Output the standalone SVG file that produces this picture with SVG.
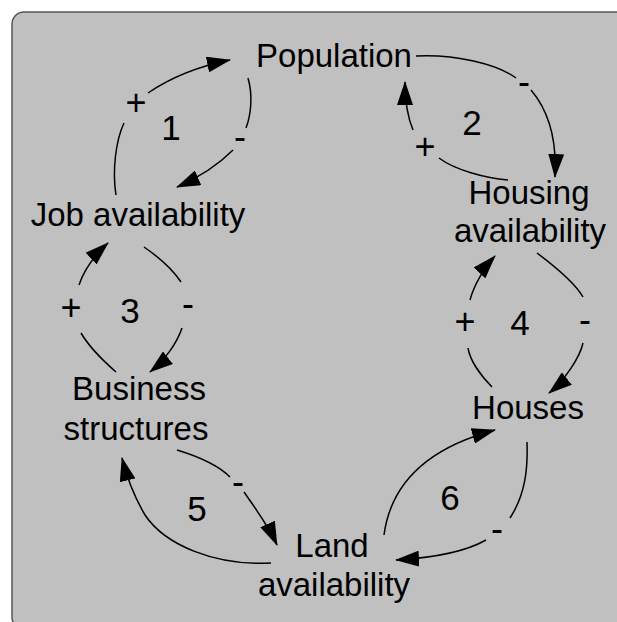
<svg xmlns="http://www.w3.org/2000/svg" width="617" height="622" viewBox="0 0 617 622">
<defs>
<marker id="ah" markerUnits="userSpaceOnUse" markerWidth="24" markerHeight="16" refX="23" refY="8" orient="auto">
<path d="M0,0 L24,8 L0,16 z" fill="#000"/>
</marker>
<style>
.lbl{font-family:"Liberation Sans",Arial,sans-serif;font-size:33px;fill:#000;text-anchor:middle}
.sgn{font-family:"Liberation Sans",Arial,sans-serif;font-size:36px;fill:#000;text-anchor:middle}
.num{font-family:"Liberation Sans",Arial,sans-serif;font-size:35px;fill:#000;text-anchor:middle}
.c{fill:none;stroke:#000;stroke-width:1.5;marker-end:url(#ah)}
</style>
</defs>
<rect x="12" y="12" width="620" height="617" rx="12" ry="12" fill="#c0c0c0" stroke="#555" stroke-width="1.5"/>
<g id="connectors">
<path class="c" d="M116,195 C112,170 116,140 124,123 M148,93 C170,78 195,67 230,60"/>
<path class="c" d="M248,78 C253,95 251,115 246,128 M233,150 C220,163 200,177 177,187"/>
<path class="c" d="M416,56 C455,54 497,64 516,78 M531,90 C548,110 557,140 555,177"/>
<path class="c" d="M508,180 C485,178 455,170 439,158 M413,130 C408,118 405,100 405,82"/>
<path class="c" d="M116,372 C100,358 88,345 81,333 M79,285 C84,270 95,255 108,243"/>
<path class="c" d="M144,247 C160,258 173,270 181,282 M182,328 C177,343 165,360 150,372"/>
<path class="c" d="M492,387 C480,375 470,360 468,348 M470,300 C474,285 484,268 495,256"/>
<path class="c" d="M537,253 C553,265 575,283 583,297 M583,343 C580,357 565,380 549,393"/>
<path class="c" d="M177,450 C200,457 218,465 230,477 M244,492 C255,508 268,525 277,545"/>
<path class="c" d="M271,563 C215,566 165,545 145,515 C135,498 127,478 122,458"/>
<path class="c" d="M384,535 C390,490 420,450 495,430"/>
<path class="c" d="M527,442 C528,470 525,495 510,518 M486,540 C465,552 430,558 396,560"/>
</g>
<g id="labels">
<text class="sgn" x="136" y="115">+</text>
<text class="sgn" x="240" y="149">-</text>
<text class="num" x="171" y="140">1</text>
<text class="sgn" x="524" y="94">-</text>
<text class="sgn" x="425" y="159">+</text>
<text class="num" x="472" y="135">2</text>
<text class="sgn" x="71" y="320">+</text>
<text class="num" x="130" y="323">3</text>
<text class="sgn" x="188" y="316">-</text>
<text class="sgn" x="465" y="334">+</text>
<text class="num" x="520" y="335">4</text>
<text class="sgn" x="585" y="332">-</text>
<text class="sgn" x="238" y="494">-</text>
<text class="num" x="197" y="521">5</text>
<text class="num" x="450" y="510">6</text>
<text class="sgn" x="497" y="541">-</text>
</g>
<g id="population"><text class="lbl" x="334" y="67">Population</text></g>
<g id="job-availability"><text class="lbl" x="138" y="226">Job availability</text></g>
<g id="housing-availability"><text class="lbl" x="529" y="204">Housing</text><text class="lbl" x="530" y="242">availability</text></g>
<g id="business-structures"><text class="lbl" x="139" y="400">Business</text><text class="lbl" x="136" y="440">structures</text></g>
<g id="houses"><text class="lbl" x="528" y="419">Houses</text></g>
<g id="land-availability"><text class="lbl" x="332" y="557">Land</text><text class="lbl" x="334" y="596">availability</text></g>
</svg>
